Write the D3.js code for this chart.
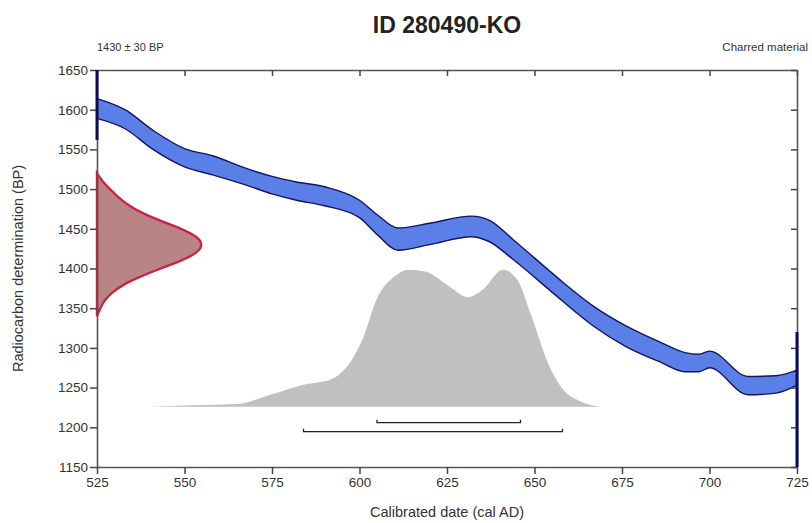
<!DOCTYPE html>
<html>
<head>
<meta charset="utf-8">
<script src="https://cdn.jsdelivr.net/npm/d3@7"></script>
<style>
  body { margin: 0; background: #fff; }
  text { font-family: "Liberation Sans", Arial, sans-serif; }
</style>
</head>
<body>
<div id="chart"></div>
<script>
const chartWidth = 812;
const chartHeight = 523;

const margin = { top: 70, bottom: 56, left: 97, right: 15 };

// calibration curve (IntCal band), upper / lower edge in BP
const calYears = [525, 533, 541, 550, 558, 567, 575, 582, 590, 600, 605, 611, 620, 632, 637, 644, 654, 658, 667, 676, 686, 693, 697, 700, 711, 719, 725];
const calUpper = [1614, 1600, 1574, 1551, 1542, 1527, 1516, 1509, 1503, 1486, 1468, 1451, 1457, 1466, 1461, 1436, 1398, 1383, 1352, 1328, 1307, 1294, 1292, 1296, 1264, 1265, 1272];
const calLower = [1589, 1576, 1550, 1528, 1518, 1506, 1494, 1486, 1479, 1464, 1443, 1423, 1430, 1440, 1434, 1411, 1374, 1359, 1327, 1302, 1282, 1270, 1270, 1275, 1241, 1243, 1253];

// radiocarbon measurement 1430 +/- 30 BP, relative probability
const bpGrid = [1520, 1510, 1500, 1490, 1480, 1470, 1460, 1450, 1440, 1430, 1420, 1410, 1400, 1390, 1380, 1370, 1360, 1350, 1340];
const bpProb = [0.0, 0.05, 0.12, 0.2, 0.29, 0.42, 0.6, 0.8, 0.95, 1.0, 0.95, 0.8, 0.6, 0.41, 0.25, 0.14, 0.07, 0.03, 0.0];

// calibrated distribution, relative probability
const calGrid = [540, 552, 565, 575, 584, 592, 596, 601, 605, 610, 614, 619, 625, 631, 635, 641, 645, 649, 654, 658, 663, 669];
const calProb = [0, 0.01, 0.02, 0.09, 0.16, 0.2, 0.28, 0.5, 0.79, 0.95, 1.0, 0.985, 0.89, 0.8, 0.85, 1.0, 0.93, 0.67, 0.31, 0.13, 0.04, 0];

// highest probability ranges
const range68 = [605, 646];
const range95 = [584, 658];

const xTicks = [525, 550, 575, 600, 625, 650, 675, 700, 725];
const yTicks = [1150, 1200, 1250, 1300, 1350, 1400, 1450, 1500, 1550, 1600, 1650];

var svg = d3.select("#chart")
  .append("svg")
  .attr("width", chartWidth)
  .attr("height", chartHeight);

var xScale = d3.scaleLinear()
  .domain([525, 725])
  .range([margin.left, chartWidth - margin.right]);

var yScale = d3.scaleLinear()
  .domain([1150, 1650])
  .range([chartHeight - margin.bottom, margin.top]);

// scales for the two distributions
var probX = d3.scaleLinear().domain([0, 1]).range([xScale(525), xScale(525) + 106]);
var probY = d3.scaleLinear().domain([0, 1]).range([yScale(1226), yScale(1226) - 137]);

var plot = svg.append("g");

// calibrated distribution (grey)
var calArea = d3.area()
  .x((d, i) => xScale(calGrid[i]))
  .y0(probY(0))
  .y1((d, i) => probY(d))
  .curve(d3.curveMonotoneX);

plot.append("path")
  .datum(calProb)
  .attr("fill", "#c0c0c0")
  .attr("d", calArea);

// calibration band
var band = d3.area()
  .x((d, i) => xScale(calYears[i]))
  .y0((d, i) => yScale(calLower[i]))
  .y1(d => yScale(d))
  .curve(d3.curveMonotoneX);

plot.append("path")
  .datum(calUpper)
  .attr("fill", "#5a7fe6")
  .attr("stroke", "#141466")
  .attr("stroke-width", 1.4)
  .attr("d", band);

// measurement distribution (red)
var bpArea = d3.area()
  .y((d, i) => yScale(bpGrid[i]))
  .x0(probX(0))
  .x1(d => probX(d))
  .curve(d3.curveBasis);

plot.append("path")
  .datum(bpProb)
  .attr("fill", "#b98484")
  .attr("stroke", "#cc2246")
  .attr("stroke-width", 2.4)
  .attr("d", bpArea);

// range brackets
[[range68, 16], [range95, 25]].forEach(function(r) {
  var y = probY(0) + r[1];
  plot.append("path")
    .attr("fill", "none")
    .attr("stroke", "#222")
    .attr("stroke-width", 1.3)
    .attr("d", "M" + xScale(r[0][0]) + "," + (y - 3) + "V" + y +
               "H" + xScale(r[0][1]) + "V" + (y - 3));
});

// axes
function styleAxis(g) {
  g.select(".domain").attr("stroke", "#555").attr("stroke-width", 1.6);
  g.selectAll(".tick line").attr("stroke", "#444").attr("stroke-width", 1.5);
  g.selectAll(".tick text")
    .attr("fill", "#333")
    .style("font-size", "13.5px");
}

var fmt = d3.format("d");

svg.append("g")
  .attr("transform", "translate(0," + yScale(1150) + ")")
  .call(d3.axisBottom(xScale).tickValues(xTicks).tickFormat(fmt).tickSize(7).tickSizeOuter(0).tickPadding(3))
  .call(styleAxis);

svg.append("g")
  .attr("transform", "translate(0," + yScale(1650) + ")")
  .call(d3.axisTop(xScale).tickValues(xTicks).tickSize(-6).tickSizeOuter(0).tickFormat(""))
  .call(styleAxis);

svg.append("g")
  .attr("transform", "translate(" + xScale(525) + ",0)")
  .call(d3.axisLeft(yScale).tickValues(yTicks).tickFormat(fmt).tickSize(7).tickSizeOuter(0).tickPadding(2))
  .call(styleAxis);

svg.append("g")
  .attr("transform", "translate(" + xScale(725) + ",0)")
  .call(d3.axisRight(yScale).tickValues(yTicks).tickSize(-6).tickSizeOuter(0).tickFormat(""))
  .call(styleAxis);

// dark markers where the curve leaves the frame
svg.append("line")
  .attr("x1", xScale(525)).attr("x2", xScale(525))
  .attr("y1", yScale(1650)).attr("y2", yScale(1562))
  .attr("stroke", "#0a0a5a").attr("stroke-width", 3);

svg.append("line")
  .attr("x1", xScale(725)).attr("x2", xScale(725))
  .attr("y1", yScale(1320)).attr("y2", yScale(1150))
  .attr("stroke", "#0a0a5a").attr("stroke-width", 3);

// texts
svg.append("text")
  .attr("x", (xScale(525) + xScale(725)) / 2)
  .attr("y", 33)
  .attr("text-anchor", "middle")
  .style("font-size", "23px")
  .style("font-weight", "bold")
  .attr("fill", "#222")
  .text("ID 280490-KO");

svg.append("text")
  .attr("x", xScale(525))
  .attr("y", 51)
  .style("font-size", "11px")
  .attr("fill", "#333")
  .text("1430 \u00b1 30 BP");

svg.append("text")
  .attr("x", 808)
  .attr("y", 51)
  .attr("text-anchor", "end")
  .style("font-size", "11.5px")
  .attr("fill", "#333")
  .text("Charred material");

svg.append("text")
  .attr("x", (xScale(525) + xScale(725)) / 2)
  .attr("y", 517)
  .attr("text-anchor", "middle")
  .style("font-size", "14.5px")
  .attr("fill", "#333")
  .text("Calibrated date (cal AD)");

svg.append("text")
  .attr("transform", "translate(23," + (yScale(1400)) + ") rotate(-90)")
  .attr("text-anchor", "middle")
  .style("font-size", "14.5px")
  .attr("fill", "#333")
  .text("Radiocarbon determination (BP)");
</script>
</body>
</html>
